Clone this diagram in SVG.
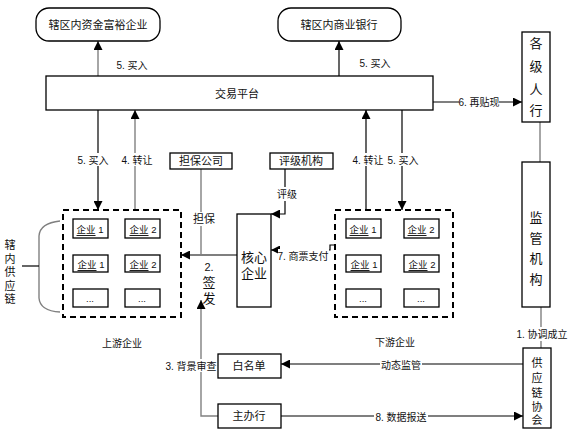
<svg xmlns="http://www.w3.org/2000/svg" width="573" height="438" viewBox="0 0 573 438">
<defs>
<marker id="ah" viewBox="0 0 10 10" refX="10" refY="5" markerWidth="9" markerHeight="9" markerUnits="userSpaceOnUse" orient="auto"><path d="M0,0 L10,5 L0,10 z" fill="#000"/></marker>
<style>
text{font-family:"Liberation Sans","Noto Sans CJK SC",sans-serif;fill:#111;}
.t{font-size:11px;text-anchor:middle;dominant-baseline:central;}
.l{font-size:10px;text-anchor:middle;dominant-baseline:central;}
.v{font-size:13px;text-anchor:middle;dominant-baseline:central;}
.s{font-size:9.5px;text-anchor:middle;dominant-baseline:central;}
.box{fill:#fff;stroke:#000;stroke-width:1.3;}
.dash{fill:none;stroke:#000;stroke-width:2;stroke-dasharray:6 4;}
.k{fill:none;stroke:#000;stroke-width:1.2;}
.g{fill:none;stroke:#808080;stroke-width:1.4;}
.bg{fill:#fff;}
</style>
</defs>
<rect width="573" height="438" fill="#fff"/>

<g id="connectors">
<line class="g" x1="98" y1="76" x2="98" y2="41" marker-end="url(#ah)"/>
<line class="k" x1="339" y1="76" x2="339" y2="41" marker-end="url(#ah)"/>
<line class="k" x1="433" y1="102" x2="522" y2="102" marker-end="url(#ah)"/>
<line class="k" x1="98" y1="110" x2="98" y2="210" marker-end="url(#ah)"/>
<line class="g" x1="135" y1="210" x2="135" y2="110" marker-end="url(#ah)"/>
<line class="k" x1="366" y1="210" x2="366" y2="110" marker-end="url(#ah)"/>
<line class="k" x1="402" y1="110" x2="402" y2="210" marker-end="url(#ah)"/>
<line class="k" x1="237" y1="255" x2="181" y2="255" marker-end="url(#ah)"/>
<line class="g" x1="201" y1="169" x2="201" y2="255"/>
<polyline class="k" points="285,169 285,214 271,214" marker-end="url(#ah)"/>
<polyline class="k" points="335,245 330,245 330,250 271,250" marker-end="url(#ah)"/>
<polyline class="g" points="218,416 201,416 201,300" marker-end="url(#ah)"/>
<line class="k" x1="523" y1="364" x2="281" y2="364" marker-end="url(#ah)"/>
<line class="k" x1="281" y1="416" x2="523" y2="416" marker-end="url(#ah)"/>
<line class="g" x1="540" y1="122" x2="540" y2="162"/>
<line class="g" x1="541" y1="307" x2="541" y2="348"/>
<path class="g" d="M60,221 Q40,223 39,236 L39,298 Q40,311 60,312"/>
<line class="k" x1="22" y1="266" x2="39" y2="266"/>
</g>

<g id="labels">
<rect class="bg" x="114" y="58" width="36" height="13"/><text class="l" x="132" y="65">5. 买入</text>
<rect class="bg" x="357" y="56" width="36" height="13"/><text class="l" x="375" y="63">5. 买入</text>
<rect class="bg" x="459" y="96" width="40" height="13"/><text class="l" x="479" y="102">6. 再贴现</text>
<rect class="bg" x="78" y="153" width="32" height="13"/><text class="l" x="93" y="160">5. 买入</text>
<rect class="bg" x="121" y="153" width="32" height="13"/><text class="l" x="137" y="160">4. 转让</text>
<rect class="bg" x="352" y="153" width="32" height="13"/><text class="l" x="368" y="160">4. 转让</text>
<rect class="bg" x="387" y="153" width="32" height="13"/><text class="l" x="403" y="160">5. 买入</text>
<rect class="bg" x="190" y="212" width="28" height="14"/><text class="t" x="204" y="219">担保</text>
<rect class="bg" x="275" y="187" width="24" height="14"/><text class="l" x="287" y="194">评级</text>
<rect class="bg" x="278" y="249" width="51" height="13"/><text class="l" x="303" y="256">7. 商票支付</text>
<text class="t" x="209" y="267">2.</text>
<text class="v" x="209" y="282">签</text>
<text class="v" x="209" y="298">发</text>
<rect class="bg" x="165" y="359" width="52" height="13"/><text class="l" x="191" y="366">3. 背景审查</text>
<rect class="bg" x="380" y="358" width="42" height="13"/><text class="l" x="401" y="365">动态监管</text>
<rect class="bg" x="374" y="410" width="54" height="13"/><text class="l" x="401" y="417">8. 数据报送</text>
<rect class="bg" x="516" y="327" width="52" height="14"/><text class="l" x="542" y="334">1. 协调成立</text>
<text class="l" x="122" y="343">上游企业</text>
<text class="l" x="395" y="342">下游企业</text>
<text class="t" x="10" y="245">辖</text>
<text class="t" x="10" y="259">内</text>
<text class="t" x="10" y="272">供</text>
<text class="t" x="10" y="286">应</text>
<text class="t" x="10" y="299">链</text>
</g>

<g id="n-rich"><rect class="box" x="36" y="8" width="124" height="33" rx="13"/><text class="t" x="98" y="25">辖区内资金富裕企业</text></g>
<g id="n-bank"><rect class="box" x="278" y="8" width="123" height="33" rx="13"/><text class="t" x="339" y="25">辖区内商业银行</text></g>
<g id="n-platform"><rect class="box" x="46" y="76" width="387" height="34"/><text class="t" x="237" y="94">交易平台</text></g>
<g id="n-pboc"><rect class="box" x="522" y="32" width="28" height="90"/><text class="v" x="536" y="43">各</text><text class="v" x="536" y="66">级</text><text class="v" x="536" y="89">人</text><text class="v" x="536" y="110">行</text></g>
<g id="n-reg"><rect class="box" x="522" y="162" width="28" height="145"/><text class="v" x="536" y="217">监</text><text class="v" x="536" y="238">管</text><text class="v" x="536" y="258">机</text><text class="v" x="536" y="279">构</text></g>
<g id="n-assoc"><rect class="box" x="523" y="348" width="28" height="80"/><text class="t" x="537" y="363">供</text><text class="t" x="537" y="378">应</text><text class="t" x="537" y="393">链</text><text class="t" x="537" y="407">协</text><text class="t" x="537" y="420">会</text></g>
<g id="n-guar"><rect class="box" x="170" y="153" width="62" height="16"/><text class="t" x="201" y="161">担保公司</text></g>
<g id="n-rating"><rect class="box" x="270" y="153" width="63" height="16"/><text class="t" x="301" y="161">评级机构</text></g>
<g id="n-core"><rect class="box" x="237" y="214" width="34" height="93"/><text class="v" x="254" y="257" font-size="13.5">核心</text><text class="v" x="254" y="273" font-size="13.5">企业</text></g>
<g id="n-white"><rect class="box" x="218" y="354" width="63" height="24"/><text class="t" x="249" y="366">白名单</text></g>
<g id="n-main"><rect class="box" x="218" y="404" width="63" height="24"/><text class="t" x="249" y="416">主办行</text></g>

<g id="n-up">
<rect class="dash" x="63" y="210" width="118" height="107"/>
<rect class="box" x="73" y="219" width="35" height="19"/><text class="s" x="90" y="229"><tspan text-decoration="underline">企业</tspan> 1</text>
<rect class="box" x="125" y="219" width="35" height="19"/><text class="s" x="143" y="229"><tspan text-decoration="underline">企业</tspan> 2</text>
<rect class="box" x="73" y="255" width="35" height="17"/><text class="s" x="91" y="264"><tspan text-decoration="underline">企业</tspan> 1</text>
<rect class="box" x="125" y="255" width="35" height="17"/><text class="s" x="143" y="264"><tspan text-decoration="underline">企业</tspan> 2</text>
<rect class="box" x="73" y="289" width="35" height="18"/><text class="s" x="90" y="298">...</text>
<rect class="box" x="125" y="289" width="35" height="18"/><text class="s" x="142" y="298">...</text>
</g>
<g id="n-down">
<rect class="dash" x="335" y="210" width="118" height="107"/>
<rect class="box" x="346" y="219" width="35" height="19"/><text class="s" x="363" y="229"><tspan text-decoration="underline">企业</tspan> 1</text>
<rect class="box" x="404" y="219" width="35" height="19"/><text class="s" x="421" y="229"><tspan text-decoration="underline">企业</tspan> 2</text>
<rect class="box" x="346" y="255" width="35" height="17"/><text class="s" x="364" y="264"><tspan text-decoration="underline">企业</tspan> 1</text>
<rect class="box" x="404" y="255" width="35" height="17"/><text class="s" x="422" y="264"><tspan text-decoration="underline">企业</tspan> 2</text>
<rect class="box" x="346" y="289" width="35" height="18"/><text class="s" x="363" y="298">...</text>
<rect class="box" x="404" y="289" width="35" height="18"/><text class="s" x="421" y="298">...</text>
</g>
</svg>
